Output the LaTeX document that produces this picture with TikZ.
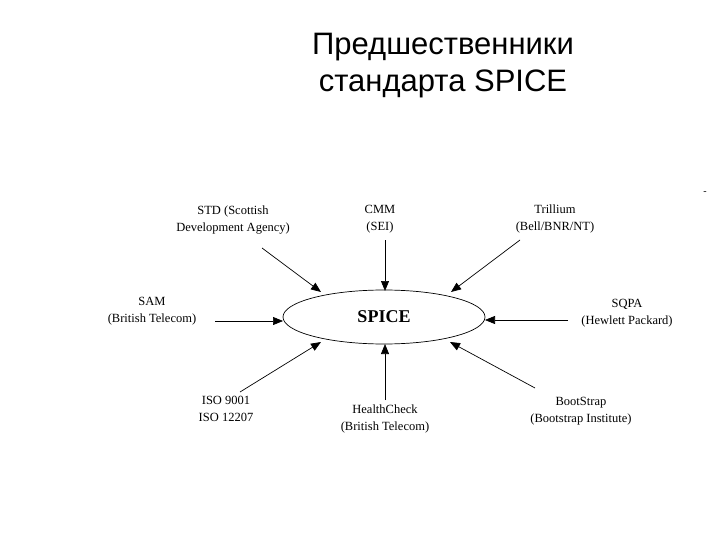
\documentclass[tikz,border=0pt]{standalone}
\usepackage{fontspec}
\setmainfont{Liberation Serif}
\newfontfamily\titlefont{Liberation Sans}
\usetikzlibrary{arrows.meta,shapes.geometric}
\begin{document}
\begin{tikzpicture}[x=1pt,y=-1pt,
  lbl/.style={align=center,font=\fontsize{12.5}{17}\selectfont,inner sep=1pt},
  arr/.style={-{Triangle[length=10pt,width=8pt]},line width=0.7pt}]
\useasboundingbox (0,0) rectangle (720,540);
\node[font=\titlefont\fontsize{31}{37}\selectfont,align=center] (title) at (443,66) {Предшественники\\стандарта SPICE};
\node[draw,ellipse,line width=0.7pt,minimum width=202pt,minimum height=54pt,font=\bfseries\fontsize{18}{20}\selectfont] (sp) at (384,317) {SPICE};
\node[lbl] (std) at (233,220) {STD (Scottish\\Development Agency)};
\node[lbl] (cmm) at (380,219) {CMM\\(SEI)};
\node[lbl] (tri) at (555,219) {Trillium\\(Bell/BNR/NT)};
\node[lbl] (sam) at (152,311) {SAM\\(British Telecom)};
\node[lbl] (sqpa) at (627,313) {SQPA\\(Hewlett Packard)};
\node[lbl] (iso) at (226,409) {ISO 9001\\ISO 12207};
\node[lbl] (hc) at (385,419) {HealthCheck\\(British Telecom)};
\node[lbl] (bs) at (581,411) {BootStrap\\(Bootstrap Institute)};
\node (dash) at (705,193) {-};
\coordinate (a1) at (262,248); \coordinate (b1) at (321,292);
\coordinate (a2) at (385,240); \coordinate (b2) at (385,291);
\coordinate (a3) at (520,240); \coordinate (b3) at (451,292);
\coordinate (a4) at (215,321); \coordinate (b4) at (283,321);
\coordinate (a5) at (568,320); \coordinate (b5) at (485,320);
\coordinate (a6) at (240,392); \coordinate (b6) at (321,342);
\coordinate (a7) at (385,400); \coordinate (b7) at (385,344);
\coordinate (a8) at (535,388); \coordinate (b8) at (450,342);
\foreach \i in {1,...,8} \draw[arr] (a\i) -- (b\i);
\end{tikzpicture}
\end{document}
